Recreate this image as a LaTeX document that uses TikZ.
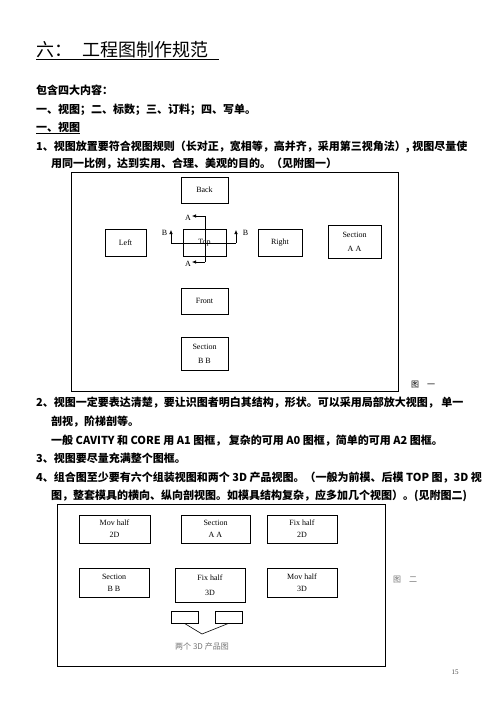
\documentclass[tikz,border=0pt]{standalone}
\usepackage{fontspec}
\setmainfont{Liberation Serif}
\newfontfamily\cjk{Noto Sans CJK SC}
\usetikzlibrary{arrows.meta}

\begin{document}
\begin{tikzpicture}[x=1pt,y=-1pt,
  txt/.style={anchor=base west,inner sep=0pt,font=\cjk\bfseries\fontsize{11}{13}\selectfont},
  view/.style={draw,line width=0.8pt,inner sep=0pt,align=center,font=\fontsize{8}{12}\selectfont},
  cutlabel/.style={inner sep=0pt,font=\fontsize{8}{9}\selectfont},
  cutarrow/.style={line width=0.6pt,-{Latex[length=4pt,width=3.5pt]}}]
\useasboundingbox (0,0) rectangle (496,702);

% title
\node[anchor=base west,inner sep=0pt,font=\cjk\fontsize{18}{20}\selectfont] (title) at (36,56) {六：\hspace{10pt}工程图制作规范};
\draw[line width=0.8pt] (36,59.5) -- (219,59.5);

% text above figure 1
\node[txt] (l1) at (36,94.5) {包含四大内容：};
\node[txt] (l2) at (36,113) {一、视图；二、标数；三、订料；四、写单。};
\node[txt] (l3) at (36,131) {一、视图};
\draw[line width=0.6pt] (36,133.5) -- (80,133.5);
\node[txt] (l4) at (36,150) {1、视图放置要符合视图规则（长对正，宽相等，高并齐，采用第三视角法）, 视图尽量使};
\node[txt] (l5) at (51,167) {用同一比例，达到实用、合理、美观的目的。（见附图一）};

% figure 1
\draw[line width=0.8pt] (71,172) rectangle (398,391);
\node[view,minimum width=47pt,minimum height=26pt] (back) at (204.5,190) {Back};
\node[view,minimum width=41pt,minimum height=27pt] (left) at (125.5,242.5) {Left};
\node[view,minimum width=43pt,minimum height=27pt] (top) at (204.5,242.5) {Top};
\node[view,minimum width=44pt,minimum height=27pt] (right) at (280,242.5) {Right};
\node[view,minimum width=53pt,minimum height=33pt,font=\fontsize{8}{14}\selectfont] (secAA) at (354.5,241.5) {Section\\A A};
\node[view,minimum width=47pt,minimum height=26pt] (front) at (204.5,301) {Front};
\node[view,minimum width=47pt,minimum height=33pt,font=\fontsize{8}{14}\selectfont] (secBB) at (204.5,353.5) {Section\\B B};

% section lines
\coordinate (a1) at (205,216);
\coordinate (a2) at (205,262);
\coordinate (b1) at (171,243);
\coordinate (b2) at (236,243);
\draw[line width=0.6pt] (a1) -- (a2);
\draw[cutarrow] (a1) -- ++(-13,0);
\draw[cutarrow] (a2) -- ++(-13,0);
\draw[line width=0.6pt] (b1) -- (b2);
\draw[cutarrow] (b1) -- ++(0,-13);
\draw[cutarrow] (b2) -- ++(0,-13);
\node[cutlabel] (aTop) at (188,218) {A};
\node[cutlabel] (aBot) at (188,264) {A};
\node[cutlabel] (bLeft) at (164.5,233) {B};
\node[cutlabel] (bRight) at (245.5,233) {B};
\node[inner sep=0pt,font=\cjk\fontsize{8}{9}\selectfont] (fig1) at (423,385) {图\hspace{8pt}一};

% text between the figures
\node[txt] (l6) at (36,406) {2、视图一定要表达清楚，要让识图者明白其结构，形状。可以采用局部放大视图， 单一};
\node[txt] (l7) at (51,425) {剖视，阶梯剖等。};
\node[txt] (l8) at (51,444) {一般 CAVITY 和 CORE 用 A1 图框， 复杂的可用 A0 图框，简单的可用 A2 图框。};
\node[txt] (l9) at (36,462) {3、视图要尽量充满整个图框。};
\node[txt] (l10) at (36,481) {4、组合图至少要有六个组装视图和两个 3D 产品视图。（一般为前模、后模 TOP 图，3D 视};
\node[txt] (l11) at (51,499) {图，整套模具的横向、纵向剖视图。如模具结构复杂，应多加几个视图）。(见附图二)};

% figure 2
\draw[line width=0.8pt] (57,504) rectangle (385,666);
\node[view,minimum width=71pt,minimum height=28pt] (movTwo) at (114.5,529) {Mov half\\2D};
\node[view,minimum width=69pt,minimum height=28pt] (secAAb) at (215.5,529) {Section\\A A};
\node[view,minimum width=70pt,minimum height=28pt] (fixTwo) at (302,529) {Fix half\\2D};
\node[view,minimum width=70pt,minimum height=29pt] (secBBb) at (114,582.5) {Section\\B B};
\node[view,minimum width=70pt,minimum height=34pt,font=\fontsize{8}{15}\selectfont] (fixThree) at (210,585) {Fix half\\3D};
\node[view,minimum width=70pt,minimum height=29pt] (movThree) at (302,582.5) {Mov half\\3D};
\node[view,minimum width=27pt,minimum height=12pt] (prodA) at (184.5,617) {};
\node[view,minimum width=27pt,minimum height=12pt] (prodB) at (228.5,617) {};
\coordinate (tip) at (202,634);
\draw[line width=0.6pt] (prodA.south) -- (tip) -- (prodB.south);
\node[inner sep=0pt,text=black!55,font=\cjk\fontsize{8}{9}\selectfont] (prodLabel) at (202,646) {两个 3D 产品图};
\node[inner sep=0pt,text=black!55,font=\cjk\fontsize{8}{9}\selectfont] (fig2) at (405,580) {图\hspace{8pt}二};

% page number
\node[inner sep=0pt,text=black!70,font=\fontsize{7}{8}\selectfont] (page) at (455,672) {15};
\end{tikzpicture}
\end{document}
